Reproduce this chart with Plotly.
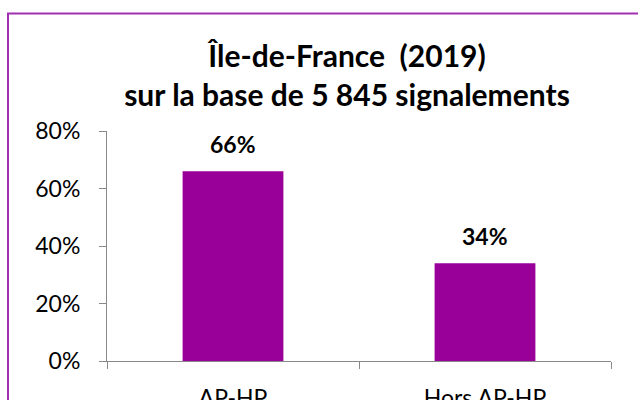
import plotly.graph_objects as go

categories = ["AP-HP", "Hors AP-HP"]
values = [66, 34]
y_ticks = [0, 20, 40, 60, 80]
y_tick_labels = ["0%", "20%", "40%", "60%", "80%"]
title_lines = ["Île-de-France  (2019)", "sur la base de 5 845 signalements"]

BAR = "#990099"
AXIS = "#888888"
FONT = "Lato"

W, H = 638, 400
L, R, T, B = 107, 27, 131, 39
pw, ph = W - L - R, H - T - B

def px_x(x):
    return (x - L) / pw

def px_y(y):
    return (H - B - y) / ph

fig = go.Figure()
fig.add_trace(go.Bar(x=categories, y=values, marker=dict(color=BAR, line=dict(width=0)),
                     hoverinfo="skip"))

for c, v in zip(categories, values):
    fig.add_annotation(x=c, y=v, text=f"<b>{v}%</b>", showarrow=False,
                       yshift=27, font=dict(family=FONT, size=23, color="black"))

fig.add_shape(type="rect", xref="paper", yref="paper",
              x0=px_x(8), x1=px_x(700), y0=px_y(420), y1=px_y(13.5),
              line=dict(color="#A030B0", width=2), layer="above")

fig.update_layout(
    width=W, height=H,
    margin=dict(l=L, r=R, t=T, b=B),
    paper_bgcolor="white", plot_bgcolor="white",
    showlegend=False,
    bargap=0.6,
    font=dict(family=FONT, color="black"),
    title=dict(text="<b>" + "<br>".join(title_lines) + "</b>",
               x=347 / W, xanchor="center",
               y=1 - 67 / H, yanchor="middle",
               font=dict(family=FONT, size=30, color="black")),
    xaxis=dict(showline=True, linecolor=AXIS, linewidth=1,
               ticks="outside", ticklen=7, tickcolor=AXIS, tickson="boundaries",
               tickfont=dict(family=FONT, size=23), ticklabelstandoff=16,
               showgrid=False, zeroline=False, fixedrange=True, automargin=False),
    yaxis=dict(range=[0, 80], tickvals=y_ticks, ticktext=y_tick_labels,
               showline=True, linecolor=AXIS, linewidth=1,
               ticks="outside", ticklen=7, tickcolor=AXIS,
               tickfont=dict(family=FONT, size=23), ticklabelstandoff=14,
               showgrid=False, zeroline=False, fixedrange=True, automargin=False),
)

fig.write_html("out.html", config={"displayModeBar": False},
               post_script="document.body.style.margin='0';document.body.style.overflow='hidden';")
